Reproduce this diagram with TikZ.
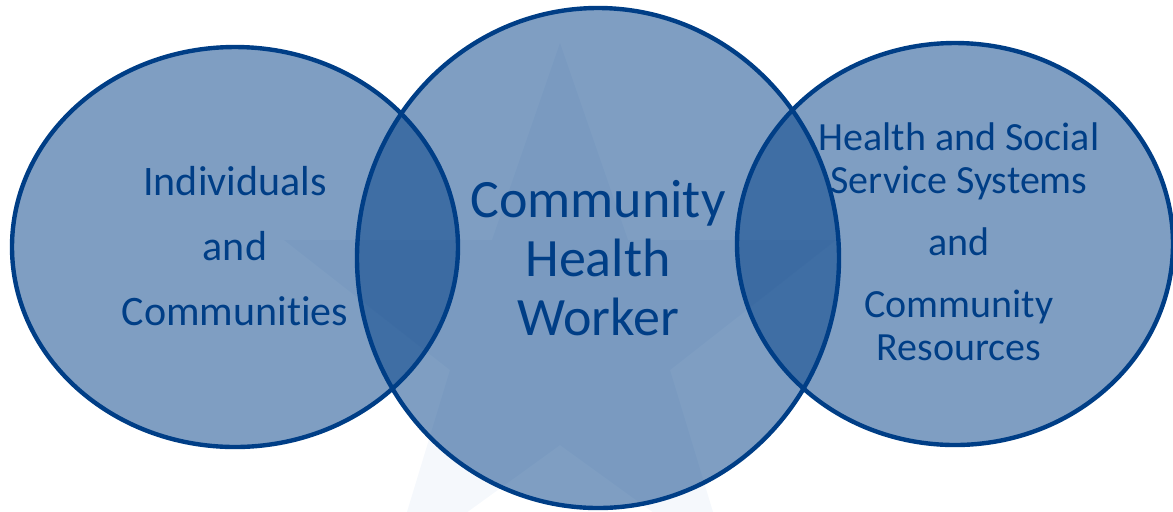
\documentclass[tikz,border=0pt]{standalone}
\usepackage{fontspec}
\setmainfont[Ligatures=NoCommon]{Carlito}
\definecolor{chwblue}{RGB}{0,62,134}
\definecolor{starblue}{RGB}{245,248,252}
\tikzset{
  venn/.style={fill=chwblue, fill opacity=0.5},
  rim/.style={draw=chwblue, line width=2.2pt},
  vennlabel/.style={text=chwblue, align=center, inner sep=0pt}
}

\begin{document}
\begin{tikzpicture}[x=0.5pt,y=-0.5pt]
\useasboundingbox (0,0) rectangle (1173,511);
\coordinate (left) at (235,247);
\coordinate (mid) at (598,258);
\coordinate (right) at (955,244);
% faint star in the background
\fill[starblue] (560,43) -- (628,240) -- (836,240) -- (670,370) -- (730,568)
  -- (560,445) -- (390,568) -- (450,370) -- (284,240) -- (492,240) -- cycle;
% fills first, rims after
\fill[venn] (left) ellipse [x radius=223, y radius=200];
\fill[venn] (mid) ellipse [x radius=241, y radius=250];
\fill[venn] (right) ellipse [x radius=218, y radius=201];
\draw[rim] (left) ellipse [x radius=223, y radius=200];
\draw[rim] (mid) ellipse [x radius=241, y radius=250];
\draw[rim] (right) ellipse [x radius=218, y radius=201];
% labels
\node[vennlabel, font=\fontsize{21}{32.5}\selectfont] (people) at (235,246)
  {Individuals\\and\\Communities};
\node[vennlabel, font=\fontsize{27}{29.5}\selectfont] (chw) at (598,258)
  {Community\\Health\\Worker};
\node[vennlabel, font=\fontsize{20}{21.5}\selectfont] (systems) at (959,242)
  {Health and Social\\Service Systems\\[9.5pt]and\\[9.5pt]Community\\Resources};
\end{tikzpicture}
\end{document}
